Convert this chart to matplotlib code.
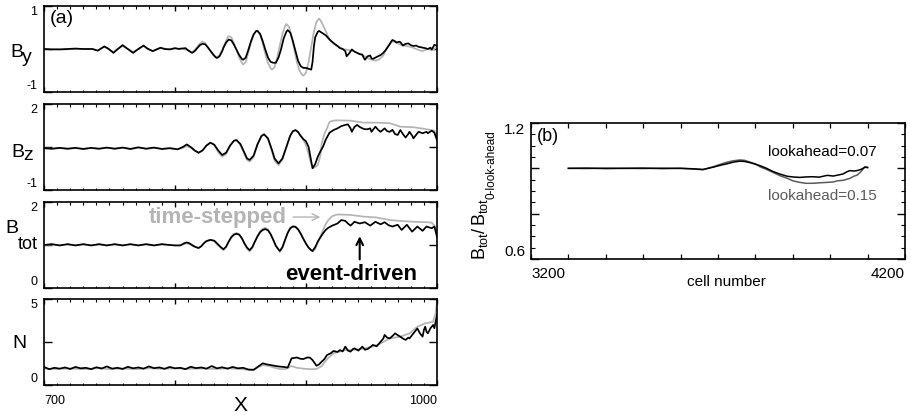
import numpy as np
import matplotlib
matplotlib.use("Agg")
import matplotlib.pyplot as plt

# ============================================================
# Data (panel a: X vs field / density)
# ============================================================

# B_y, event-driven (black)
by_ed_x = [700, 706, 712, 718, 724, 730, 737, 741, 743, 746, 749, 753, 756, 760, 764, 768, 772, 776, 779, 783,
           786, 789, 792, 796, 800, 803, 805, 808, 810,
           813, 815, 817, 819, 821, 823, 825, 827, 829, 831, 832, 834, 836, 837, 839, 841, 843, 845, 847, 849,
           851, 852, 854, 856, 858, 860, 862, 863, 865, 867, 869, 871, 873, 875, 877, 879, 881, 883, 885, 886,
           888, 890, 892, 894, 896, 898, 900, 902, 904, 905, 906, 907, 909, 910, 912, 915, 918, 921, 924, 926,
           928, 930, 931, 933, 935, 937, 939, 941, 943, 944, 945, 947, 949, 950, 951, 953, 955, 957, 959, 961,
           963, 965, 966, 968, 969, 971, 972, 974, 976, 978, 980, 982, 984, 986, 988, 989, 991, 993, 995, 996,
           997, 998, 1000]
by_ed = [0.0, -0.01, -0.01, 0.0, 0.01, 0.0, 0.0, -0.04, 0.0, 0.06, 0.01, -0.09, -0.01, 0.09, 0.0, -0.09, 0.0, 0.08, 0.01, -0.05,
         -0.01, 0.03, 0.0, -0.01, 0.02, 0.0, 0.01, 0.02, -0.03,
         -0.09, -0.05, 0.02, 0.09, 0.12, 0.11, 0.04, -0.04, -0.12, -0.19, -0.21, -0.17, -0.05, 0.03, 0.15, 0.22, 0.2, 0.1, -0.02, -0.14,
         -0.23, -0.25, -0.2, -0.02, 0.18, 0.34, 0.42, 0.42, 0.35, 0.18, -0.02, -0.2, -0.3, -0.32, -0.32, -0.2, 0.0, 0.25, 0.4, 0.44,
         0.38, 0.18, -0.05, -0.28, -0.4, -0.44, -0.44, -0.46, -0.48, -0.3, 0.05, 0.27, 0.4, 0.42, 0.38, 0.32, 0.22, 0.14, 0.07, 0.02,
         0.0, -0.05, -0.17, -0.1, -0.01, -0.06, -0.09, -0.12, -0.13, -0.2, -0.25, -0.17, -0.15, -0.22, -0.23, -0.2, -0.17, -0.14, -0.09, -0.02,
         0.07, 0.17, 0.21, 0.18, 0.15, 0.17, 0.16, 0.08, 0.12, 0.13, 0.09, 0.07, 0.08, 0.05, 0.04, 0.03, 0.02, 0.0, 0.03, -0.01,
         0.04, 0.1, 0.07]

# B_y, time-stepped (grey)
by_ts_x = [700, 708, 716, 724, 732, 737, 741, 743, 746, 749, 753, 756, 760, 764, 768, 772, 776, 779, 783, 786,
           789, 794, 800, 805, 810,
           813, 815, 817, 819, 821, 823, 825, 827, 829, 831, 832, 834, 836, 838, 840, 841, 843, 845, 847, 849,
           851, 852, 854, 856, 858, 860, 862, 863, 865, 867, 869, 871, 873, 874, 876, 878, 880, 882, 884, 885,
           887, 889, 891, 893, 895, 897, 898, 900, 902, 904, 906, 908, 910, 912, 915, 918, 921, 924, 928, 932,
           936, 940, 945, 949, 953, 956, 959, 962, 966, 969, 972, 976, 980, 984, 989, 993, 996, 998, 1000]
by_ts = [0.0, 0.0, -0.01, 0.0, 0.0, 0.0, -0.03, 0.0, 0.05, 0.0, -0.07, 0.0, 0.07, 0.0, -0.07, 0.0, 0.07, 0.0, -0.05, 0.0,
         0.02, 0.0, 0.01, 0.01, -0.03,
         -0.08, -0.03, 0.05, 0.13, 0.17, 0.14, 0.05, -0.05, -0.14, -0.19, -0.19, -0.14, -0.03, 0.12, 0.26, 0.3, 0.27, 0.14, -0.03, -0.2,
         -0.32, -0.36, -0.3, -0.08, 0.15, 0.32, 0.42, 0.42, 0.33, 0.12, -0.12, -0.33, -0.45, -0.48, -0.42, -0.2, 0.08, 0.35, 0.53, 0.58,
         0.52, 0.3, 0.0, -0.3, -0.5, -0.6, -0.62, -0.55, -0.3, 0.05, 0.4, 0.63, 0.71, 0.62, 0.42, 0.22, 0.12, 0.07, 0.0, -0.02,
         -0.05, -0.1, -0.17, -0.24, -0.27, -0.24, -0.15, 0.05, 0.18, 0.15, 0.1, 0.07, 0.05, 0.0, -0.05, 0.0, -0.02, 0.0, 0.05]

# B_z, event-driven
bz_ed_x = [700, 706, 712, 718, 724, 730, 736, 742, 748, 754, 760, 766, 772, 778, 784, 790, 796, 802, 806, 809,
           812, 815, 818, 821, 824, 827, 830, 833, 836, 839, 842, 845, 847, 850, 853, 855, 857, 860, 863, 866,
           868, 871, 874, 876, 879, 882, 885, 888, 890, 892, 894, 896, 898, 900, 902, 904, 905, 907, 909, 911,
           913, 915, 917, 918, 921, 924, 927, 930, 932, 934, 935, 937, 939, 941, 943, 945, 947, 949, 950, 953,
           955, 957, 960, 962, 964, 966, 968, 970, 972, 974, 976, 978, 979, 981, 982, 985, 986, 989, 992, 993,
           996, 998, 1000]
bz_ed = [0.46, 0.44, 0.47, 0.44, 0.47, 0.43, 0.47, 0.44, 0.48, 0.44, 0.48, 0.43, 0.49, 0.44, 0.48, 0.43, 0.46, 0.42, 0.5, 0.59,
         0.5, 0.38, 0.3, 0.38, 0.55, 0.65, 0.58, 0.38, 0.22, 0.3, 0.55, 0.72, 0.74, 0.6, 0.3, 0.1, 0.05, 0.2, 0.6, 0.88,
         0.94, 0.8, 0.4, 0.1, -0.07, 0.1, 0.5, 0.9, 1.05, 1.09, 1.02, 0.88, 0.77, 0.7, 0.5, 0.0, -0.24, -0.1, 0.16, 0.35,
         0.51, 0.75, 0.92, 1.0, 1.09, 1.15, 1.23, 1.27, 1.29, 1.15, 1.03, 1.2, 1.27, 1.2, 1.15, 1.12, 1.12, 1.15, 1.03, 1.21,
         1.1, 1.03, 1.15, 1.05, 1.03, 1.1, 0.95, 0.92, 1.09, 0.95, 0.83, 0.95, 1.03, 0.9, 0.8, 0.98, 1.03, 0.98, 1.03, 0.98,
         1.07, 1.0, 0.74]

# B_z, time-stepped
bz_ts_x = [700, 706, 712, 718, 724, 730, 736, 742, 748, 754, 760, 766, 772, 778, 784, 790, 796, 802, 806, 809,
           812, 815, 818, 821, 824, 827, 830, 833, 836, 839, 842, 845, 847, 850, 853, 855, 857, 860, 863, 866,
           868, 871, 874, 876, 879, 882, 885, 888, 890, 892, 894, 896, 898, 900, 902, 904, 905, 907, 909, 911,
           912, 914, 916, 918, 921, 924, 934, 944, 954, 964, 972, 982, 992, 998, 1000]
bz_ts = [0.45, 0.44, 0.46, 0.44, 0.46, 0.44, 0.46, 0.44, 0.47, 0.44, 0.47, 0.44, 0.47, 0.44, 0.47, 0.44, 0.45, 0.42, 0.47, 0.53,
         0.48, 0.37, 0.3, 0.38, 0.55, 0.66, 0.56, 0.32, 0.16, 0.25, 0.52, 0.72, 0.75, 0.55, 0.25, 0.05, -0.01, 0.15, 0.58, 0.9,
         0.95, 0.78, 0.35, 0.02, -0.13, 0.05, 0.48, 0.9, 1.05, 1.08, 1.02, 0.9, 0.78, 0.55, 0.25, -0.1, -0.24, -0.2, -0.13, 0.2,
         0.63, 0.95, 1.15, 1.38, 1.42, 1.43, 1.42, 1.35, 1.35, 1.33, 1.21, 1.19, 1.12, 1.07, 0.8]

# B_tot, event-driven
bt_ed_x = [700, 706, 712, 718, 724, 730, 736, 742, 748, 754, 760, 766, 772, 778, 784, 790, 796, 800,
           804, 807, 809, 811, 814, 816, 818, 820, 822, 824, 827, 830, 832, 835, 837, 839, 841, 843, 845, 847,
           849, 851, 853, 855, 857, 859, 861, 863, 865, 867, 869, 871, 873, 875, 877, 880, 882, 884, 886, 888,
           890, 892, 894, 896, 898, 900, 902, 904, 905, 907, 909, 911, 913, 915, 917, 920,
           924, 927, 930, 932, 934, 937, 941, 945, 949, 953, 957, 960, 963, 966, 970, 973,
           977, 981, 985, 989, 992, 996, 998, 1000]
bt_ed = [1.0, 1.02, 0.99, 1.02, 0.99, 1.02, 0.99, 1.02, 0.99, 1.02, 0.99, 1.02, 0.99, 1.02, 0.99, 1.02, 1.0, 0.99,
         0.99, 1.04, 1.06, 1.04, 0.98, 0.95, 0.93, 0.97, 1.04, 1.09, 1.12, 1.1, 1.04, 0.95, 0.9, 0.96, 1.08, 1.18, 1.24, 1.26,
         1.24, 1.16, 1.04, 0.94, 0.88, 0.95, 1.08, 1.2, 1.3, 1.35, 1.37, 1.34, 1.25, 1.12, 0.98, 0.86, 0.95, 1.12, 1.28, 1.39,
         1.43, 1.42, 1.36, 1.26, 1.14, 1.03, 0.94, 0.88, 0.86, 0.95, 1.08, 1.18, 1.27, 1.35, 1.4, 1.45,
         1.5, 1.58, 1.56, 1.5, 1.45, 1.54, 1.5, 1.53, 1.45, 1.54, 1.48, 1.53, 1.46, 1.43, 1.47, 1.35,
         1.47, 1.31, 1.43, 1.33, 1.43, 1.39, 1.43, 1.19]

# B_tot, time-stepped
bt_ts_x = [700, 706, 712, 718, 724, 730, 736, 742, 748, 754, 760, 766, 772, 778, 784, 790, 796, 800,
           804, 807, 809, 811, 814, 816, 818, 820, 822, 824, 827, 830, 832, 835, 837, 839, 841, 843, 845, 847,
           849, 851, 853, 855, 857, 859, 861, 863, 865, 867, 869, 871, 873, 875, 877, 880, 882, 884, 886, 888,
           890, 892, 894, 896, 898, 900, 902, 904, 905, 907, 909, 911, 913, 915, 917, 920,
           924, 934, 944, 954, 964, 972, 982, 992, 996, 998, 1000]
bt_ts = [1.0, 1.01, 0.99, 1.01, 0.99, 1.01, 0.99, 1.01, 0.99, 1.01, 0.99, 1.01, 0.99, 1.01, 0.99, 1.01, 1.0, 0.99,
         0.99, 1.02, 1.04, 1.02, 0.97, 0.95, 0.93, 0.97, 1.04, 1.09, 1.12, 1.09, 1.02, 0.93, 0.88, 0.95, 1.08, 1.2, 1.26, 1.28,
         1.25, 1.16, 1.02, 0.91, 0.85, 0.93, 1.08, 1.22, 1.32, 1.38, 1.4, 1.36, 1.26, 1.12, 0.97, 0.84, 0.93, 1.1, 1.28, 1.4,
         1.44, 1.43, 1.37, 1.27, 1.15, 1.03, 0.93, 0.87, 0.86, 0.9, 1.05, 1.2, 1.35, 1.48, 1.58, 1.67,
         1.71, 1.7, 1.66, 1.64, 1.58, 1.56, 1.54, 1.53, 1.52, 1.45, 1.31]

# N, event-driven
n_ed_x = [700, 704, 708, 712, 716, 720, 724, 728, 732, 736, 740, 744, 748, 752, 756, 760, 764, 768, 772, 776,
          780, 784, 788, 792, 796, 800, 804, 808, 812, 816, 820, 824, 828, 832, 836, 840, 844, 848, 852, 856,
          860, 864, 867, 870, 873, 877, 880, 883, 886, 889, 893, 896, 898, 901, 903, 905, 908, 910, 912, 914,
          916, 919, 921, 924, 926, 928, 930, 932, 934, 936, 937, 940, 943, 945, 947, 949, 951, 954, 957, 959,
          960, 962, 964, 966, 968, 970, 972, 974, 976, 978, 979, 982, 985, 987, 989, 990, 991, 992, 993, 995,
          997, 998, 999, 1000]
n_ed = [1.05, 0.92, 1.0, 0.95, 1.02, 0.93, 1.05, 0.97, 1.0, 0.92, 1.03, 0.96, 1.08, 0.95, 1.0, 0.93, 1.06, 0.97, 1.02, 0.95,
        1.08, 0.98, 1.02, 0.94, 1.05, 0.97, 1.0, 0.92, 1.06, 0.98, 1.02, 0.95, 1.1, 0.97, 1.03, 0.95, 1.05, 0.97, 1.0, 0.9,
        0.88, 1.1, 1.26, 1.2, 1.16, 1.1, 1.07, 1.05, 1.01, 1.55, 1.6, 1.52, 1.51, 1.6, 1.59, 1.45, 1.12, 1.2, 1.36, 1.5,
        1.74, 1.85, 1.98, 1.92, 2.03, 1.95, 2.23, 2.0, 1.94, 2.1, 2.13, 2.0, 2.23, 2.05, 2.09, 2.2, 2.33, 2.25, 2.52, 2.7,
        2.91, 2.75, 2.71, 2.85, 3.0, 2.9, 2.81, 2.7, 2.62, 2.75, 2.71, 3.0, 3.29, 3.0, 2.81, 3.2, 3.39, 3.1, 3.0, 3.3,
        3.49, 3.3, 3.7, 4.07]

# N, time-stepped
n_ts_x = [700, 710, 720, 730, 740, 750, 760, 770, 780, 790, 800, 810, 820, 830, 840, 850, 856, 860, 864, 867,
          872, 876, 880, 884, 889, 893, 898, 903, 908, 912, 916, 921, 926, 930, 937, 943, 951, 957, 964, 972,
          979, 985, 991, 997, 999, 1000]
n_ts = [0.95, 0.93, 0.96, 0.92, 0.97, 0.93, 0.96, 0.92, 0.97, 0.94, 0.97, 0.94, 0.96, 0.93, 0.97, 0.93, 0.88, 0.9, 1.05, 1.16,
        1.1, 1.0, 0.93, 0.92, 1.1, 1.0, 0.95, 0.92, 0.93, 1.1, 1.5, 1.84, 1.95, 2.03, 2.05, 2.1, 2.23, 2.42, 2.71, 2.81,
        3.0, 3.39, 3.58, 3.68, 4.2, 4.84]

# Panel b: B_tot ratio vs cell number
cell = [3300, 3350, 3400, 3450, 3500, 3550, 3600, 3633, 3660, 3687, 3710, 3724, 3740, 3759, 3772, 3786, 3800, 3812, 3830, 3847,
        3865, 3885, 3900, 3919, 3935, 3954, 3970, 3992, 4008, 4020, 4034, 4045, 4053, 4063, 4072, 4082, 4093, 4100]
ratio_007 = [1.0, 1.001, 0.999, 1.0, 1.001, 0.999, 1.0, 0.998, 0.995, 1.005, 1.015, 1.02, 1.027, 1.032, 1.03, 1.025, 1.018, 1.012, 1.0, 0.986,
             0.975, 0.965, 0.962, 0.96, 0.962, 0.963, 0.961, 0.969, 0.966, 0.97, 0.975, 0.985, 0.99, 0.988, 0.99, 0.995, 1.005, 1.003]
ratio_015 = [1.0, 0.999, 1.001, 1.0, 0.999, 1.001, 1.0, 0.997, 0.994, 1.007, 1.02, 1.027, 1.033, 1.037, 1.035, 1.027, 1.02, 1.007, 0.995, 0.982,
             0.968, 0.956, 0.945, 0.938, 0.934, 0.934, 0.936, 0.938, 0.94, 0.945, 0.947, 0.952, 0.956, 0.965, 0.97, 0.985, 1.007, 1.005]

# ============================================================
# Style
# ============================================================

plt.rcParams.update({
    "font.family": ["Liberation Sans", "DejaVu Sans"],
    "mathtext.fontset": "custom",
    "mathtext.rm": "Liberation Sans",
    "mathtext.it": "Liberation Sans",
    "axes.linewidth": 1.2,
})

GREY = "#b4b4b4"
DARK = "#5a5a5a"
W, H = 911, 415

fig = plt.figure(figsize=(W / 100, H / 100), dpi=100)


def fx(px):
    return px / W


def fy(py):
    return 1 - py / H


left, width, height = 44 / W, 393 / W, 86 / H
bottoms = [fy(92), fy(190), fy(288), fy(385)]
limits = [(-1, 1), (-1, 2), (0, 2), (0, 5)]
series = [
    (by_ts_x, by_ts, by_ed_x, by_ed),
    (bz_ts_x, bz_ts, bz_ed_x, bz_ed),
    (bt_ts_x, bt_ts, bt_ed_x, bt_ed),
    (n_ts_x, n_ts, n_ed_x, n_ed),
]

axes = []
for i, (b, (lo, hi), (xg, yg, xk, yk)) in enumerate(zip(bottoms, limits, series)):
    ax = fig.add_axes([left, b, width, height])
    ax.plot(xg, yg, color=GREY, lw=1.25)
    ax.plot(xk, yk, color="black", lw=1.25)
    ax.set_xlim(700, 1000)
    ax.set_ylim(lo, hi)
    ax.set_xticks([700, 800, 900, 1000])
    ax.set_xticks(np.arange(700, 1001, 10), minor=True)
    ax.set_yticks([lo, (lo + hi) / 2, hi])
    ax.set_yticklabels([f"{lo:g}", "", f"{hi:g}"], fontsize=9)
    ax.tick_params(which="both", direction="in", top=True, right=True)
    ax.tick_params(axis="x", which="major", length=3.5, width=1.0)
    ax.tick_params(axis="x", which="minor", length=1.8, width=0.8)
    ax.tick_params(axis="y", which="major", length=6, width=1.0, pad=5)
    labs = ax.get_yticklabels()
    labs[0].set_verticalalignment("bottom")
    labs[2].set_verticalalignment("top")
    if i < 3:
        ax.tick_params(axis="x", labelbottom=False)
    else:
        ax.set_xticklabels(["700", "", "", "1000"], fontsize=9)
        ax.tick_params(axis="x", pad=7)
        xl = ax.get_xticklabels()
        xl[0].set_horizontalalignment("left")
        xl[3].set_horizontalalignment("right")
    axes.append(ax)

# panel labels on the left
fig.text(fx(10), fy(57), "B", fontsize=14, va="baseline")
fig.text(fx(22), fy(62), "y", fontsize=14, va="baseline")
fig.text(fx(11), fy(157), "B", fontsize=14, va="baseline")
fig.text(fx(23), fy(160), "z", fontsize=14, va="baseline")
fig.text(fx(5), fy(233), "B", fontsize=14, va="baseline")
fig.text(fx(18), fy(249), "tot", fontsize=13, va="baseline")
fig.text(fx(12), fy(348), "N", fontsize=14, va="baseline")
fig.text(fx(240), fy(405), "X", fontsize=15, ha="center", va="center")

axes[0].text(0.015, 0.95, "(a)", transform=axes[0].transAxes, fontsize=14, va="top", ha="left")

# annotations in B_tot panel
ax3 = axes[2]
ax3.text(885, 1.5, "time-stepped", color=GREY, fontsize=16, fontweight="bold", ha="right", va="baseline")
ax3.annotate("", xy=(913, 1.65), xytext=(888, 1.65),
             arrowprops=dict(arrowstyle="->", color=GREY, lw=1.0, mutation_scale=12))
ax3.text(985, 0.19, "event-driven", color="black", fontsize=16, fontweight="bold", ha="right", va="baseline")
ax3.annotate("", xy=(941, 1.27), xytext=(941, 0.6),
             arrowprops=dict(arrowstyle="->", color="black", lw=1.5, mutation_scale=12))

# ============================================================
# Panel b
# ============================================================

axb = fig.add_axes([fx(531), fy(259), 374 / W, 136 / H])
axb.plot(cell, ratio_015, color=DARK, lw=1.1)
axb.plot(cell, ratio_007, color="black", lw=1.1)
axb.set_xlim(3200, 4200)
axb.set_ylim(0.6, 1.2)
axb.set_xticks([3200, 4200])
axb.set_xticks(np.arange(3200, 4201, 100), minor=True)
axb.set_xticklabels(["3200", "4200"], fontsize=11)
axb.set_yticks([0.6, 0.8, 1.0, 1.2])
axb.set_yticks(np.arange(0.6, 1.201, 0.05), minor=True)
axb.set_yticklabels(["0.6", "", "", "1.2"], fontsize=11)
axb.tick_params(which="both", direction="in", top=True, right=True)
axb.tick_params(axis="y", which="major", length=6, width=1.0, pad=4)
axb.tick_params(axis="y", which="minor", length=3, width=0.8)
axb.tick_params(axis="x", which="both", length=3.5, width=0.9, pad=6)
xl = axb.get_xticklabels()
xl[0].set_horizontalalignment("left")
xl[1].set_horizontalalignment("right")
yl = axb.get_yticklabels()
yl[0].set_verticalalignment("bottom")
yl[3].set_verticalalignment("top")

axb.text(0.016, 0.965, "(b)", transform=axb.transAxes, fontsize=13, va="top", ha="left")
axb.text(0.925, 0.787, "lookahead=0.07", transform=axb.transAxes, fontsize=11, ha="right", va="center")
axb.text(0.925, 0.463, "lookahead=0.15", transform=axb.transAxes, fontsize=11, ha="right", va="center", color=DARK)

fig.text(fx(726), fy(282), "cell number", fontsize=11, ha="center", va="center")

# rotated y label: B_tot / B_tot with a second-level subscript
ylab = fig.text(fx(480), fy(260), r"$\mathrm{B_{tot}/\,B_{tot}}$",
                fontsize=13, rotation=90, ha="center", va="bottom")
fig.canvas.draw()
bb = ylab.get_window_extent()
fig.text((bb.x1 + 2) / W, (bb.y1 - 1) / H, "0-look-ahead",
         fontsize=8.5, rotation=90, ha="center", va="bottom")

fig.savefig("out.png", dpi=100)
